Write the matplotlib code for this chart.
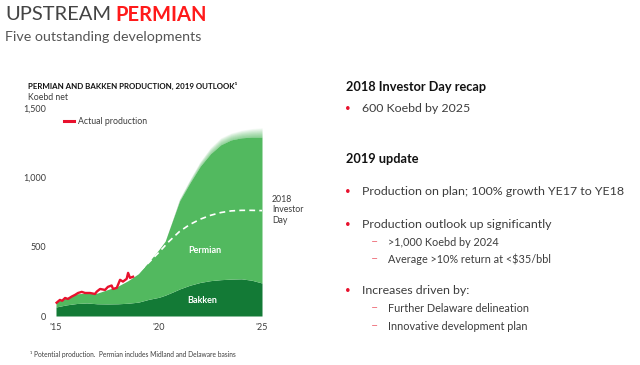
import matplotlib
matplotlib.use("Agg")
import matplotlib.pyplot as plt
import numpy as np

plt.rcParams["font.family"] = ["Lato", "DejaVu Sans"]

# -----------------------------
# Data
# -----------------------------
years = [2015.0, 2015.5, 2016.0, 2016.5, 2017.0, 2017.5, 2018.0, 2018.5,
         2019.0, 2019.5, 2020.0, 2020.3, 2020.7, 2021.0, 2021.5, 2022.0,
         2022.5, 2023.0, 2023.5, 2024.0, 2024.5, 2025.0]
bakken = [65, 80, 90, 94, 88, 87, 88, 92, 100, 120, 135, 150, 175, 195,
          222, 242, 255, 262, 266, 268, 258, 238]
total = [104, 130, 160, 165, 165, 190, 215, 255, 305, 390, 480, 540, 705,
         830, 960, 1080, 1170, 1235, 1270, 1285, 1290, 1290]
# soft upper edge of the outlook (faded band above the solid area)
total_fade = [104, 130, 160, 165, 165, 190, 215, 255, 305, 390, 480, 540,
              712, 845, 985, 1115, 1215, 1285, 1320, 1340, 1352, 1358]

actual_years = [2015.03, 2015.19, 2015.30, 2015.44, 2015.58, 2015.76,
                2015.92, 2016.07, 2016.25, 2016.41, 2016.65, 2016.89,
                2016.98, 2017.14, 2017.38, 2017.52, 2017.70, 2017.77,
                2017.95, 2018.11, 2018.25, 2018.43, 2018.50, 2018.59,
                2018.74]
actual = [96, 116, 110, 130, 123, 140, 152, 166, 174, 166, 166, 159, 176,
          195, 188, 210, 220, 195, 203, 261, 248, 268, 311, 275, 283]

ir_years = [2018.7, 2019.0, 2019.5, 2020.0, 2020.5, 2021.0, 2021.5, 2022.0,
            2022.5, 2023.0, 2023.5, 2024.0, 2024.5, 2025.0]
ir_2018 = [283, 315, 385, 460, 540, 610, 660, 698, 726, 746, 758, 762,
           762, 760]

yticks = [0, 500, 1000, 1500]
ytick_labels = ["0", "500", "1,000", "1,500"]
xticks = [2015, 2020, 2025]
xtick_labels = ["'15", "'20", "'25"]

LIGHT_GREEN = "#52b95f"
DARK_GREEN = "#137a36"
RED = "#e8112d"
TEXT = "#3d3d3d"

W, H = 640, 365
fig = plt.figure(figsize=(W / 100, H / 100), dpi=100)


def px(x, y):
    return x / W, 1 - y / H


def ftext(x, y, s, **kw):
    kw.setdefault("va", "center")
    kw.setdefault("color", TEXT)
    fig.text(*px(x, y), s, **kw)


# -----------------------------
# Chart
# -----------------------------
left, right, top, bottom = 52, 266, 108, 316
ax = fig.add_axes([left / W, 1 - bottom / H, (right - left) / W,
                   (bottom - top) / H])
ax.set_xlim(2014.806, 2025.194)
ax.set_ylim(0, 1500)

ax.fill_between(years, 0, bakken, color=DARK_GREEN, lw=0)
ax.fill_between(years, bakken, total, color=LIGHT_GREEN, lw=0)
t = np.array(total, dtype=float)
tf = np.array(total_fade, dtype=float)
n = 14
for k in range(1, n + 1):
    lo = t + (tf - t) * (k - 1) / n
    hi = t + (tf - t) * k / n
    ax.fill_between(years, lo, hi, color=LIGHT_GREEN, lw=0,
                    alpha=0.85 * (1 - k / (n + 1)))

ax.plot(ir_years, ir_2018, color="white", lw=1.2, ls=(0, (3.5, 2.5)))
ax.plot(actual_years, actual, color=RED, lw=1.7, solid_joinstyle="round")

ax.set_yticks(yticks)
ax.set_yticklabels(ytick_labels)
ax.set_xticks(xticks)
ax.set_xticklabels(xtick_labels)
ax.tick_params(length=0, labelsize=6.5, colors=TEXT)
ax.tick_params(axis="y", pad=4)
ax.tick_params(axis="x", pad=5)
for s in ax.spines.values():
    s.set_visible(False)

ax.text(2022.2, 470, "Permian", color="white", fontsize=6.5,
        fontweight="bold", ha="center", va="center")
ax.text(2022.1, 110, "Bakken", color="white", fontsize=6.5,
        fontweight="bold", ha="center", va="center")

# legend
fig.add_artist(plt.Line2D([64 / W, 74 / W], [1 - 121 / H, 1 - 121 / H],
                          color=RED, lw=2.2))
ftext(78, 121, "Actual production", fontsize=6.3)

ftext(272, 210, "2018\nInvestor\nDay", fontsize=6.3, linespacing=1.25)

ftext(28, 86, "PERMIAN AND BAKKEN PRODUCTION, 2019 OUTLOOK\u00b9",
      fontsize=5.7, fontweight="bold", color="#111111")
ftext(28, 97, "Koebd net", fontsize=6.3)

# -----------------------------
# Titles
# -----------------------------
fig.text(*px(5, 15), "UPSTREAM", fontsize=14.5, color="#444444",
         va="center")
fig.text(*px(115, 15), "PERMIAN", fontsize=14.5, fontweight="bold",
         color="#ff1a1a", va="center")
ftext(5, 37, "Five outstanding developments", fontsize=10.3,
      color="#555555")

# -----------------------------
# Right-hand text
# -----------------------------
ftext(346, 87, "2018 Investor Day recap", fontsize=9.2, fontweight="bold",
      color="#111111")
ftext(346, 159, "2019 update", fontsize=9.2, fontweight="bold",
      color="#111111")

bullets = [
    (109, "600 Koebd by 2025"),
    (192, "Production on plan; 100% growth YE17 to YE18"),
    (224, "Production outlook up significantly"),
    (291, "Increases driven by:"),
]
subs = [
    (242, ">1,000 Koebd by 2024"),
    (259, "Average >10% return at <$35/bbl"),
    (308, "Further Delaware delineation"),
    (326, "Innovative development plan"),
]
for y, s in bullets:
    ftext(348, y, "\u2022", fontsize=7, color=RED, ha="center")
    ftext(362, y, s, fontsize=8.9)
for y, s in subs:
    ftext(375, y, "\u2013", fontsize=9, color="#f07a85", ha="center")
    ftext(388, y, s, fontsize=7.8)

ftext(30, 355, "\u00b9 Potential production.  Permian includes Midland "
      "and Delaware basins", fontsize=4.8)

fig.savefig("out.png", dpi=100)
